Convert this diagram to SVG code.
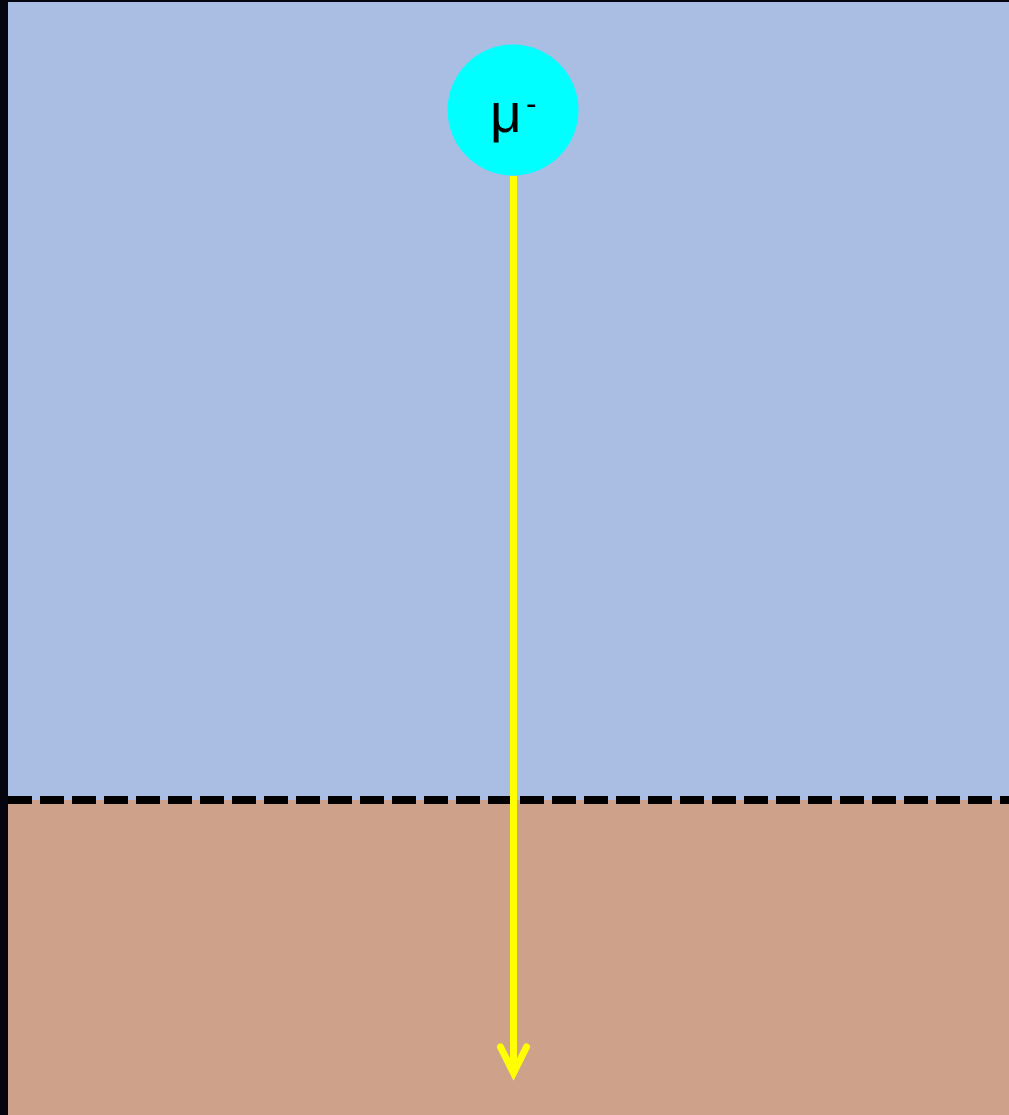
<svg xmlns="http://www.w3.org/2000/svg" width="1009" height="1115" viewBox="0 0 1009 1115">
  <style>
    .lbl { font-family: "Liberation Sans", Arial, sans-serif; fill: #000; }
  </style>
  <rect x="0" y="0" width="1009" height="1115" fill="#05050f"/>
  <g id="sky"><rect x="8" y="2" width="1001" height="798" fill="#aabee4"/></g>
  <g id="ground"><rect x="8" y="800" width="1001" height="315" fill="#cea28a"/></g>
  <g id="surface"><line x1="8" y1="800" x2="1009" y2="800" stroke="#000" stroke-width="8" stroke-dasharray="24 8"/></g>
  <g id="connectors">
    <line x1="513.5" y1="176" x2="513.5" y2="1072" stroke="#ffff00" stroke-width="7"/>
    <polyline points="500.5,1047 513.5,1073 526.5,1047" fill="none" stroke="#ffff00" stroke-width="7" stroke-linecap="round" stroke-linejoin="miter"/>
  </g>
  <g id="muon">
    <circle cx="513" cy="110" r="65.5" fill="#00ffff"/>
    <text class="lbl" x="490" y="132" font-size="55">μ</text>
    <text class="lbl" x="526" y="114" font-size="32">-</text>
  </g>
</svg>
